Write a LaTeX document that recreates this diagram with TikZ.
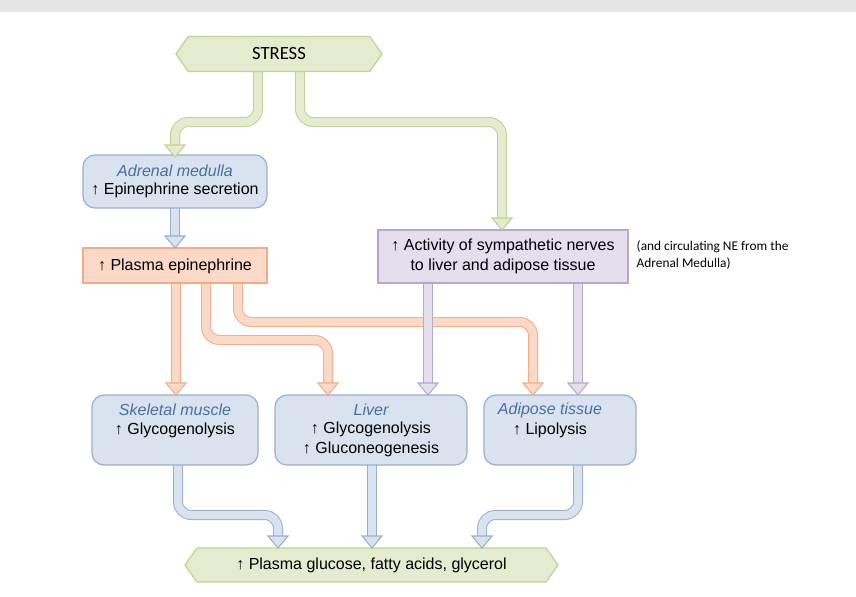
\documentclass[tikz,border=0pt]{standalone}
\usepackage{fontspec}
\setmainfont{Liberation Sans}
\newfontfamily\calfont{Carlito}
\usetikzlibrary{shapes.symbols}
\definecolor{gF}{HTML}{E5EBCF}\definecolor{gD}{HTML}{C3D08F}
\definecolor{bF}{HTML}{D9E2EF}\definecolor{bD}{HTML}{9AAECB}
\definecolor{oF}{HTML}{FBD9C6}\definecolor{oD}{HTML}{F2AC88}
\definecolor{pF}{HTML}{E4DEED}\definecolor{pD}{HTML}{B5A8CC}
\definecolor{ital}{HTML}{4A6F9E}
\newcommand\fpipe[2]{\draw[line width=7.5pt,draw=#1D,rounded corners=10pt] #2; \draw[line width=6pt,draw=#1F,rounded corners=10pt] #2;}
\newcommand\fhead[3]{\filldraw[fill=#1F,draw=#1D,line width=0.8pt] ({#2-10},{#3-12})--({#2+10},{#3-12})--(#2,#3)--cycle;}
\begin{document}
\begin{tikzpicture}[x=0.75pt,y=-0.75pt,
 wh/.style 2 args={minimum width={#1*0.75pt},minimum height={#2*0.75pt}},
 box/.style={rounded corners=9pt,line width=0.9pt,inner sep=0},
 sq/.style={line width=0.9pt,inner sep=0},
 hex/.style={signal,signal to=east and west,signal pointer angle=110,fill=gF,draw=gD,line width=0.9pt,inner sep=0},
 txt/.style={font=\fontsize{12}{15}\selectfont,align=center,text=black},
 it/.style={font=\fontsize{12}{15}\selectfont\itshape,text=ital}]
\useasboundingbox (0,0) rectangle (856,596);
\fill[gray!20] (0,0) rectangle (856,12);
% pipes
\fpipe{g}{(258,72) -- (258,122) -- (175,122) -- (175,145)}
\fpipe{g}{(300,72) -- (300,122) -- (502,122) -- (502,218)}
\fpipe{b}{(175,208) -- (175,236)}
\fpipe{o}{(176,283) -- (176,383)}
\fpipe{o}{(206,283) -- (206,340) -- (328,340) -- (328,383)}
\fpipe{o}{(238,283) -- (238,322) -- (533,322) -- (533,383)}
\fpipe{p}{(428,283) -- (428,383)}
\fpipe{p}{(578,283) -- (578,383)}
\fpipe{b}{(178,465) -- (178,515) -- (278,515) -- (278,536)}
\fpipe{b}{(372,465) -- (372,536)}
\fpipe{b}{(578,465) -- (578,515) -- (482,515) -- (482,536)}
% nodes
\node[hex,wh={206}{35}] (stress) at (279,54) {};
\node[box,fill=bF,draw=bD,wh={184}{53}] (adr) at (175,181.5) {};
\node[sq,fill=oF,draw=oD,wh={184}{35}] (pla) at (175,265.5) {};
\node[sq,fill=pF,draw=pD,wh={250}{53}] (sym) at (503,256.5) {};
\node[box,fill=bF,draw=bD,wh={166}{70}] (ske) at (175,430) {};
\node[box,fill=bF,draw=bD,wh={192}{70}] (liv) at (371,430) {};
\node[box,fill=bF,draw=bD,wh={152}{70}] (adi) at (560,430) {};
\node[hex,wh={373}{34}] (bot) at (371.5,565) {};
% heads
\fhead{g}{175}{157}\fhead{g}{502}{230}\fhead{b}{175}{248}
\fhead{o}{176}{395}\fhead{o}{328}{395}\fhead{o}{533}{395}
\fhead{p}{428}{395}\fhead{p}{578}{395}
\fhead{b}{278}{548}\fhead{b}{372}{548}\fhead{b}{482}{548}
% texts
\node[font=\calfont\fontsize{14}{16}\selectfont] at (stress.center) {STRESS};
\node[it] at (175,171) {Adrenal medulla};
\node[txt] at (175,190) {↑ Epinephrine secretion};
\node[txt] at (175,266) {↑ Plasma epinephrine};
\node[txt] at (503,256.5) {↑ Activity of sympathetic nerves\\to liver and adipose tissue};
\node[it] at (175,410) {Skeletal muscle};
\node[txt] at (175,430) {↑ Glycogenolysis};
\node[it] at (371,410) {Liver};
\node[txt] at (371,439) {↑ Glycogenolysis\\↑ Gluconeogenesis};
\node[it] at (550,410) {Adipose tissue};
\node[txt] at (550,430) {↑ Lipolysis};
\node[txt] at (bot.center) {↑ Plasma glucose, fatty acids, glycerol};
\node[font=\calfont\fontsize{10}{13}\selectfont,align=left,anchor=north west] at (632,236) {(and circulating NE from the\\Adrenal Medulla)};
\end{tikzpicture}
\end{document}
